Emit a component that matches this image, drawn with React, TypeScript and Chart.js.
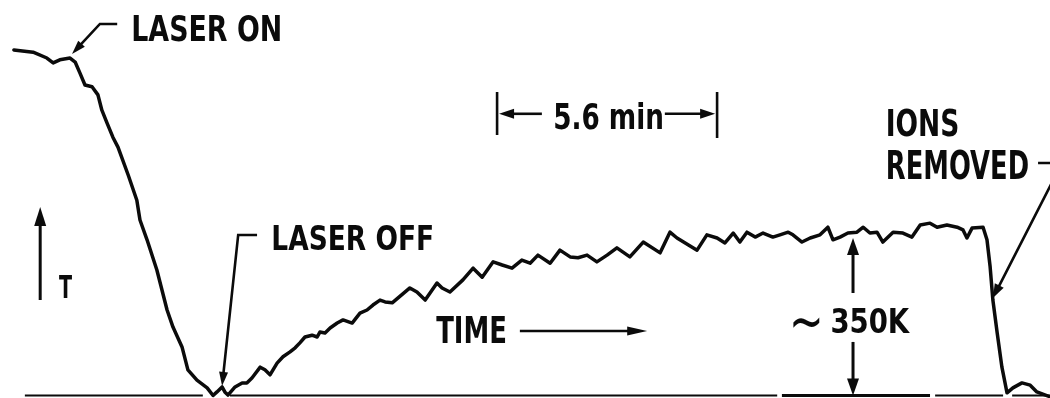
import React, { useEffect, useRef } from "react";
import { Chart, registerables } from "chart.js";

Chart.register(...registerables);

// Recorder trace: minutes after the cooling laser is switched on,
// temperature in K above the laser-cooled level.
const traceTime = [
  -1.48, -0.99, -0.64, -0.48, -0.31, -0.05, 0.08, 0.2, 0.33, 0.51, 0.66, 0.76, 0.89, 1.04, 1.17, 1.43,
  1.65, 1.73, 1.91, 2.16, 2.42, 2.57, 2.8, 2.95, 3.18, 3.44, 3.59, 3.69, 3.82, 3.89, 3.97, 4.15,
  4.33, 4.45, 4.58, 4.79, 4.91, 5.04, 5.22, 5.37, 5.55, 5.68, 5.8, 5.93, 6.11, 6.24, 6.31, 6.44,
  6.57, 6.75, 6.9, 7.13, 7.33, 7.51, 7.66, 7.84, 7.97, 8.15, 8.6, 8.78, 8.99, 9.29, 9.42, 9.62,
  9.95, 10.21, 10.44, 10.72, 10.95, 11.2, 11.45, 11.66, 11.86, 12.17, 12.42, 12.68, 12.88, 13.11,
  13.36, 13.62, 13.87, 14.2, 14.54, 14.97, 15.22, 15.4, 15.91, 16.16, 16.42, 16.62, 16.83, 17.0,
  17.18, 17.39, 17.59, 17.84, 18.02, 18.23, 18.35, 18.58, 18.79, 19.04, 19.24, 19.37, 19.55, 19.75,
  19.98, 20.14, 20.31, 20.49, 20.64, 20.9, 21.15, 21.38, 21.59, 21.84, 22.02, 22.27, 22.53, 22.68,
  22.78, 22.91, 23.19, 23.29, 23.37, 23.44, 23.55, 23.67, 23.8, 23.95, 24.18, 24.39, 24.56, 24.9,
];
const traceTemp = [
  768, 763, 750, 739, 746, 750, 741, 717, 690, 686, 668, 634, 606, 574, 552, 490,
  434, 390, 346, 279, 190, 152, 108, 57, 34, 17, 0, 8, 19, 8, 1, 19,
  28, 28, 39, 63, 57, 46, 72, 86, 97, 106, 117, 130, 134, 130, 141, 139,
  150, 161, 168, 161, 183, 190, 201, 212, 208, 206, 239, 230, 212, 250, 239, 230,
  257, 283, 263, 297, 290, 283, 301, 294, 312, 294, 323, 308, 306, 312,
  297, 312, 328, 308, 341, 317, 363, 350, 323, 357, 350, 339, 361, 341,
  363, 352, 361, 352, 357, 363, 357, 341, 350, 357, 374, 346, 352, 361,
  363, 374, 361, 363, 341, 363, 361, 352, 379, 383, 374, 379, 374, 368,
  350, 372, 374, 346, 286, 212, 139, 63, 6, 17, 28, 23, 8, -3,
];

// Zero-temperature line of the recorder, drawn as separate pieces (minutes)
const baselineFrom = [-1.2, 4.02, 18.07, 21.97, 23.93];
const baselineTo = [3.33, 17.95, 21.84, 23.7, 24.9];

// Visible ranges of the two axes
const timeRange = [-1.833, 24.894];
const tempRange = [-5.56, 878.9];

// Marked interval and temperature step
const intervalStart = 10.82;
const intervalMinutes = 5.6;
const tempStep = 350;

const INK = "#0b0b0b";
const FONT = "'Liberation Sans Narrow', 'DejaVu Sans Condensed', 'Liberation Sans', Arial, sans-serif";

type Note = { text: string; t: number; k: number; h: number; w: number; weight?: string };
type Leader = { path: number[][]; head: number; half: number; lw: number };

// Text blocks: left edge (min), ink bottom (K), ink height / width in px
const notes: Note[] = [
  { text: "LASER ON", t: 1.55, k: 785.6, h: 27, w: 147 },
  { text: "LASER OFF", t: 5.12, k: 323.3, h: 25, w: 159 },
  { text: `${intervalMinutes} min`, t: 12.29, k: 590, h: 27, w: 107 },
  { text: "IONS", t: 20.77, k: 574.4, h: 29, w: 70 },
  { text: "REMOVED", t: 20.77, k: 478.9, h: 30, w: 140 },
  { text: "T", t: -0.33, k: 216.7, h: 23, w: 13 },
  { text: "TIME", t: 9.27, k: 116.7, h: 28, w: 69 },
  { text: "~", t: 18.35, k: 150, h: 11, w: 27, weight: "normal" },
  { text: `${tempStep}K`, t: 19.35, k: 138.9, h: 26, w: 78 },
];

const stepX = 19.88;
const intervalEnd = intervalStart + intervalMinutes;

// Leader lines with arrowheads at the last point
const leaders: Leader[] = [
  { path: [[1.15, 825.6], [0.71, 825.6], [0, 758.9]], head: 14, half: 4.5, lw: 2.6 },
  { path: [[4.71, 356.7], [4.23, 356.7], [3.82, 21.1]], head: 14, half: 4.5, lw: 2.6 },
  { path: [[-0.81, 212.2], [-0.81, 418.9]], head: 19, half: 6, lw: 3 },
  { path: [[11.96, 626], [intervalStart + 0.05, 626]], head: 15, half: 5, lw: 2.6 },
  { path: [[15.09, 626], [intervalEnd - 0.05, 626]], head: 15, half: 5, lw: 2.6 },
  { path: [[11.4, 143.3], [14.64, 143.3]], head: 20, half: 4.5, lw: 2.6 },
  { path: [[stepX, 227.8], [stepX, tempStep]], head: 17, half: 6, lw: 3 },
  { path: [[stepX, 119], [stepX, 0]], head: 17, half: 6, lw: 3 },
  { path: [[24.59, 516.7], [25.2, 516.7], [23.44, 216.7]], head: 14, half: 5, lw: 2.6 },
];

// End bars of the time interval marker (K range)
const intervalBars = [
  { t: intervalStart, k0: 578.9, k1: 674.4 },
  { t: intervalEnd, k0: 572.2, k1: 674.4 },
];

function drawBoxText(ctx: CanvasRenderingContext2D, n: Note, left: number, bottom: number) {
  const weight = n.weight ?? "bold";
  ctx.font = `${weight} 100px ${FONT}`;
  const ref = ctx.measureText(n.text);
  const inkH = ref.actualBoundingBoxAscent + ref.actualBoundingBoxDescent;
  const size = (100 * n.h) / inkH;
  ctx.font = `${weight} ${size}px ${FONT}`;
  const m = ctx.measureText(n.text);
  const inkW = m.actualBoundingBoxLeft + m.actualBoundingBoxRight;
  ctx.save();
  ctx.translate(left, bottom);
  ctx.scale(n.w / inkW, 1);
  ctx.textAlign = "left";
  ctx.textBaseline = "alphabetic";
  ctx.fillText(n.text, m.actualBoundingBoxLeft, -m.actualBoundingBoxDescent);
  ctx.restore();
}

function drawLeader(ctx: CanvasRenderingContext2D, pts: number[][], head: number, half: number, lw: number) {
  const n = pts.length;
  const [tx, ty] = pts[n - 1];
  const [sx, sy] = pts[n - 2];
  const len = Math.hypot(tx - sx, ty - sy);
  const ux = (tx - sx) / len;
  const uy = (ty - sy) / len;
  const bx = tx - ux * head;
  const by = ty - uy * head;
  ctx.lineWidth = lw;
  ctx.lineJoin = "miter";
  ctx.lineCap = "butt";
  ctx.beginPath();
  ctx.moveTo(pts[0][0], pts[0][1]);
  for (let i = 1; i < n - 1; i++) ctx.lineTo(pts[i][0], pts[i][1]);
  ctx.lineTo(bx + ux * 2, by + uy * 2);
  ctx.stroke();
  ctx.beginPath();
  ctx.moveTo(tx, ty);
  ctx.lineTo(bx - uy * half, by + ux * half);
  ctx.lineTo(bx + uy * half, by - ux * half);
  ctx.closePath();
  ctx.fill();
}

const notesPlugin = {
  id: "traceNotes",
  afterDatasetsDraw(chart: any) {
    const { ctx, scales } = chart;
    const px = (t: number) => scales.x.getPixelForValue(t);
    const py = (k: number) => scales.y.getPixelForValue(k);
    ctx.save();
    ctx.fillStyle = INK;
    ctx.strokeStyle = INK;
    for (const n of notes) drawBoxText(ctx, n, px(n.t), py(n.k));
    for (const a of leaders) {
      drawLeader(ctx, a.path.map(([t, k]) => [px(t), py(k)]), a.head, a.half, a.lw);
    }
    ctx.lineWidth = 2.6;
    for (const b of intervalBars) {
      ctx.beginPath();
      ctx.moveTo(px(b.t), py(b.k0));
      ctx.lineTo(px(b.t), py(b.k1));
      ctx.stroke();
    }
    ctx.restore();
  },
};

export default function App() {
  const canvasRef = useRef<HTMLCanvasElement | null>(null);

  useEffect(() => {
    const canvas = canvasRef.current;
    if (!canvas) return;

    const trace = traceTime.map((t, i) => ({ x: t, y: traceTemp[i] }));
    const baseline: { x: number; y: number | null }[] = [];
    baselineFrom.forEach((from, i) => {
      baseline.push({ x: from, y: 0 }, { x: baselineTo[i], y: 0 }, { x: baselineTo[i], y: null });
    });

    const chart = new Chart(canvas, {
      type: "line",
      data: {
        datasets: [
          {
            data: trace,
            borderColor: INK,
            borderWidth: 3.5,
            pointRadius: 0,
            tension: 0,
            borderJoinStyle: "round",
            borderCapStyle: "round",
            fill: false,
          },
          {
            data: baseline as any,
            borderColor: INK,
            borderWidth: 2.2,
            pointRadius: 0,
            tension: 0,
            spanGaps: false,
            fill: false,
            segment: {
              borderWidth: (c: any) => (c.p0.parsed.x >= 18 && c.p1.parsed.x <= 21.9 ? 3.2 : 2.2),
            },
          },
        ],
      },
      options: {
        animation: false,
        responsive: false,
        events: [],
        layout: { padding: 0 },
        plugins: { legend: { display: false }, tooltip: { enabled: false } },
        scales: {
          x: { type: "linear", min: timeRange[0], max: timeRange[1], display: false },
          y: { type: "linear", min: tempRange[0], max: tempRange[1], display: false },
        },
      },
      plugins: [notesPlugin],
    });

    return () => chart.destroy();
  }, []);

  return (
    <div style={{ position: "absolute", left: 0, top: 0, width: 1050, height: 398, background: "#fff" }}>
      <canvas ref={canvasRef} width={1050} height={398} style={{ display: "block", width: 1050, height: 398 }} />
    </div>
  );
}
